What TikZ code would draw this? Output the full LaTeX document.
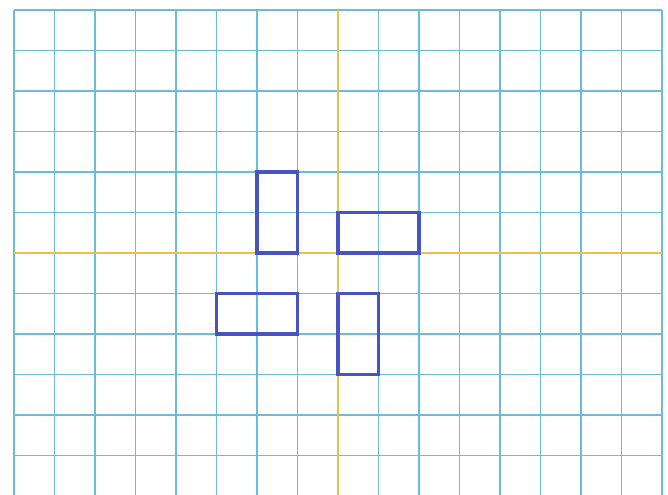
\documentclass[tikz,border=0pt]{standalone}
\definecolor{gridblue}{RGB}{104,190,216}
\definecolor{axisgold}{RGB}{238,190,70}
\definecolor{tileblue}{RGB}{72,84,192}
\begin{document}
\begin{tikzpicture}[gridline/.style={draw=gridblue,line width=0.9pt},
    axisline/.style={draw=axisgold,line width=1pt},
    tile/.style={draw=tileblue,line width=2.4pt,line join=miter}, scale=1]
    \useasboundingbox (-8.346,-5.975) rectangle (8.148,6.247);
    \begin{scope}
      \clip (-8.346,-5.975) rectangle (8.148,6.247);
      \draw[gridline] (-8,-6) grid (8,6);
    \end{scope}

    \draw[axisline] (-8,0) -- (8,0);
    \draw[axisline] (0,-5.975) -- (0,6);

    \draw[tile] (-2,0) rectangle (-1,2);
    \draw[tile] (0,0) rectangle (2,1);
    \draw[tile] (-3,-2) rectangle (-1,-1);
    \draw[tile] (0,-3) rectangle (1,-1);
  \end{tikzpicture}
\end{document}
